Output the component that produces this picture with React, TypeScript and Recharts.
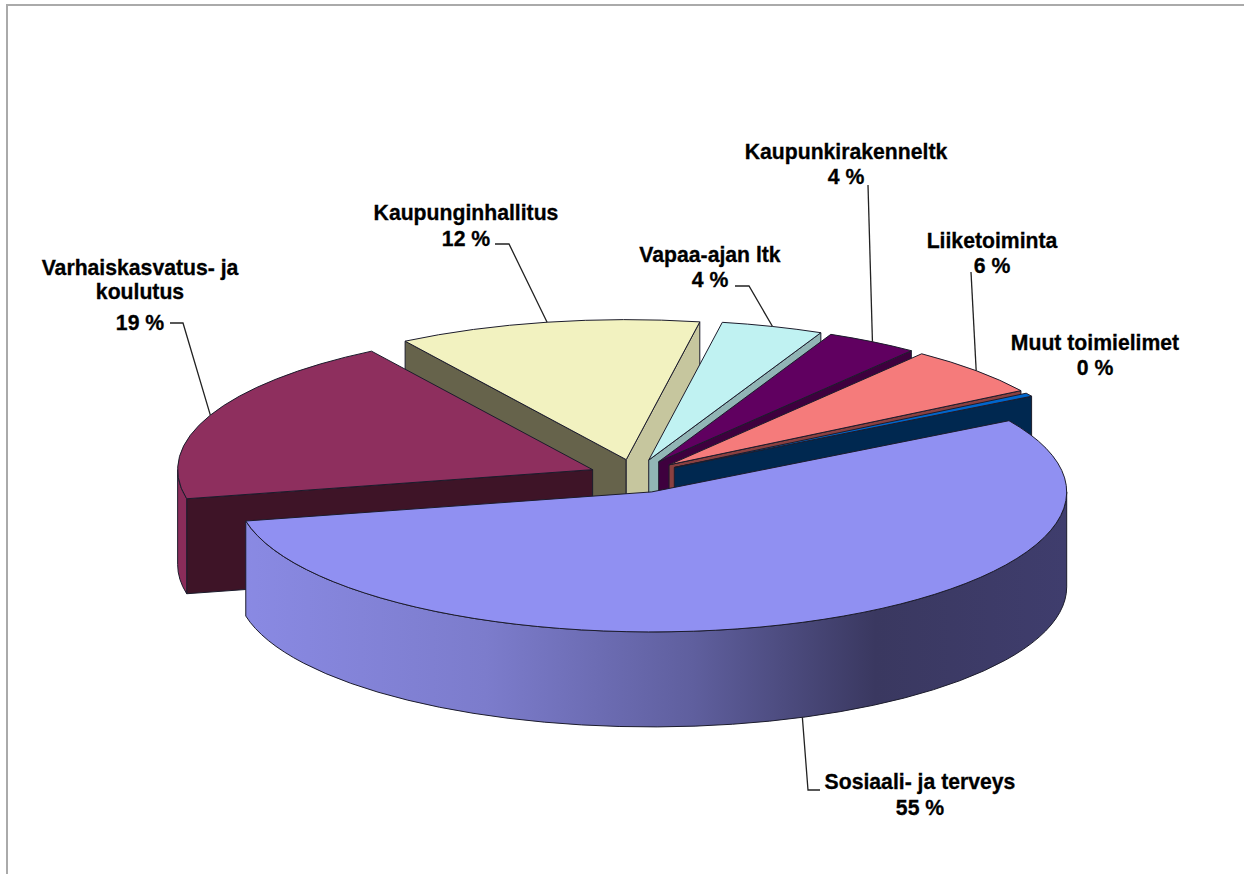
import React from "react";
import { PieChart, Pie } from "recharts";

const names = ["Varhaiskasvatus- ja koulutus", "Kaupunginhallitus", "Vapaa-ajan ltk", "Kaupunkirakenneltk", "Liiketoiminta", "Muut toimielimet", "Sosiaali- ja terveys"];
const values = [19.39, 11.78, 3.97, 3.61, 5.69, 0.4, 55.16];
const nameLines = [["Varhaiskasvatus- ja", "koulutus"], ["Kaupunginhallitus"], ["Vapaa-ajan ltk"], ["Kaupunkirakenneltk"], ["Liiketoiminta"], ["Muut toimielimet"], ["Sosiaali- ja terveys"]];

const topColors = ["#8E2F5E", "#F2F2C0", "#C0F2F2", "#600060", "#F57B7B", "#0066CC", "#9090F2"];
const startWallColors = ["#3E1427", "#66634B", "#91B5B5", "#3E003E", "#8A4040", "#002850", "#3A3860"];
const endWallColors = ["#3E1427", "#C6C69E", "#91B5B5", "#3E003E", "#8A4040", "#002850", "#3A3860"];
const outerWallColors = ["#8A2C5A", "#C6C69E", "#91B5B5", "#3E003E", "#8A4040", "#002850", "url"];

const labelLayout = [
  { x: 140, ys: [275, 299, 330], bends: [[183, 323], [170, 323]] },
  { x: 466, ys: [220, 246], bends: [[509, 244], [495, 244]] },
  { x: 710, ys: [262, 287], bends: [[749, 286], [735, 286]] },
  { x: 846, ys: [159, 184], bends: [[868, 185]] },
  { x: 992, ys: [248, 273], bends: [[971, 272]] },
  { x: 1095, ys: [349.5, 374.5], bends: [] },
  { x: 920, ys: [789, 815], bends: [[808, 790], [820, 790]] },
];

const chartData = names.map((name, i) => ({ name, value: values[i] }));

const CX = 635;
const CY = 476.2;
const RADIUS = 415;
const SQUASH = 140 / 415;
const DEPTH = 95;
const EXPLODE_X = 46;
const EXPLODE_Y = 50;
const RAD = Math.PI / 180;
const EDGE = "#1c1c2c";
const BACK_SLICE = 1; // painted under its left neighbour, as in the picture

function apexOf(cx: number, cy: number, mid: number) {
  return [cx + EXPLODE_X * Math.cos(mid * RAD), cy - EXPLODE_Y * SQUASH * Math.sin(mid * RAD)];
}

function Slice3D(props: any) {
  const { cx, cy, outerRadius: r, startAngle, endAngle, index } = props;
  const s = Math.max(startAngle, endAngle);
  const e = Math.min(startAngle, endAngle);
  const [ax, ay] = apexOf(cx, cy, (s + e) / 2);
  const b = r * SQUASH;
  const pt = (a: number, d = 0) => [ax + r * Math.cos(a * RAD), ay - b * Math.sin(a * RAD) + d];
  const arc = (to: number[], sweep: number, large: number) => `A ${r} ${b} 0 ${large} ${sweep} ${to[0]} ${to[1]}`;
  const ps = pt(s);
  const pe = pt(e);
  const wall = (p: number[]) => `M ${ax} ${ay} L ${p[0]} ${p[1]} L ${p[0]} ${p[1] + DEPTH} L ${ax} ${ay + DEPTH} Z`;
  const outer: string[] = [];
  [0, 360].forEach((k) => {
    const lo = Math.max(e, k - 180);
    const hi = Math.min(s, k);
    if (hi > lo) {
      const p1 = pt(hi);
      const p2 = pt(lo);
      const p2d = pt(lo, DEPTH);
      const p1d = pt(hi, DEPTH);
      outer.push(`M ${p1[0]} ${p1[1]} ${arc(p2, 1, 0)} L ${p2d[0]} ${p2d[1]} ${arc(p1d, 0, 0)} Z`);
    }
  });
  const top = `M ${ax} ${ay} L ${ps[0]} ${ps[1]} ${arc(pe, 1, s - e > 180 ? 1 : 0)} Z`;
  const showStart = Math.cos(s * RAD) < 0;
  const showEnd = Math.cos(e * RAD) > 0;
  return (
    <g>
      <defs>
        <linearGradient id={`wall${index}`} gradientUnits="userSpaceOnUse" x1={ax - r} x2={ax + r} y1={0} y2={0}>
          <stop offset="0%" stopColor="#8A8AE4" />
          <stop offset="30%" stopColor="#7C7CCC" />
          <stop offset="55%" stopColor="#5F5F9E" />
          <stop offset="77%" stopColor="#3A3860" />
          <stop offset="100%" stopColor="#3F3D6D" />
        </linearGradient>
      </defs>
      {showStart && <path d={wall(ps)} fill={startWallColors[index]} stroke={EDGE} strokeWidth={1} />}
      {showEnd && <path d={wall(pe)} fill={endWallColors[index]} stroke={EDGE} strokeWidth={1} />}
      {outer.map((d, i) => (
        <path
          key={i}
          d={d}
          fill={outerWallColors[index] === "url" ? `url(#wall${index})` : outerWallColors[index]}
          stroke={EDGE}
          strokeWidth={1}
        />
      ))}
      <path d={top} fill={topColors[index]} stroke={EDGE} strokeWidth={1} strokeLinejoin="round" />
    </g>
  );
}

function BackLayer(props: any) {
  return props.index === BACK_SLICE ? <Slice3D {...props} /> : <g />;
}

function FrontLayer(props: any) {
  return props.index === BACK_SLICE ? <g /> : <Slice3D {...props} />;
}

function SliceLabel(props: any) {
  const { index, midAngle, percent } = props;
  const layout = labelLayout[index];
  const lines = [...nameLines[index], `${Math.round(percent * 100)} %`];
  const [ax, ay] = apexOf(CX, CY, midAngle);
  const lower = Math.sin(midAngle * RAD) < 0;
  const sx = ax + RADIUS * Math.cos(midAngle * RAD);
  const sy = ay - RADIUS * SQUASH * Math.sin(midAngle * RAD) + (lower ? DEPTH : 0);
  return (
    <g>
      {layout.bends.length > 0 && (
        <polyline
          points={[[sx, sy], ...layout.bends].map((p) => p.join(",")).join(" ")}
          fill="none"
          stroke="#222"
          strokeWidth={1.3}
        />
      )}
      {lines.map((t, i) => (
        <text
          key={i}
          x={layout.x}
          y={layout.ys[i]}
          textAnchor="middle"
          fontFamily="'Liberation Sans', Arial, sans-serif"
          fontWeight="bold"
          fontSize={21.2}
          fill="#000"
          stroke="#000"
          strokeWidth={0.3}
        >
          {t}
        </text>
      ))}
    </g>
  );
}

export default function App() {
  return (
    <div style={{ position: "fixed", left: 0, top: 0, width: 1244, height: 874, background: "#fff", overflow: "hidden" }}>
      <div style={{ position: "absolute", left: 6, top: 4, width: 1240, height: 880, borderLeft: "2px solid #aaa", borderTop: "2px solid #aaa" }} />
      <div style={{ position: "absolute", left: 0, top: 0 }}>
        <PieChart width={1244} height={874} margin={{ top: 0, right: 0, bottom: 0, left: 0 }}>
          <Pie
            data={chartData}
            dataKey="value"
            nameKey="name"
            cx={CX}
            cy={CY}
            outerRadius={RADIUS}
            startAngle={192}
            endAngle={-168}
            stroke="none"
            shape={BackLayer}
            isAnimationActive={false}
          />
          <Pie
            data={chartData}
            dataKey="value"
            nameKey="name"
            cx={CX}
            cy={CY}
            outerRadius={RADIUS}
            startAngle={192}
            endAngle={-168}
            stroke="none"
            shape={FrontLayer}
            label={SliceLabel}
            labelLine={false}
            isAnimationActive={false}
          />
        </PieChart>
      </div>
    </div>
  );
}
